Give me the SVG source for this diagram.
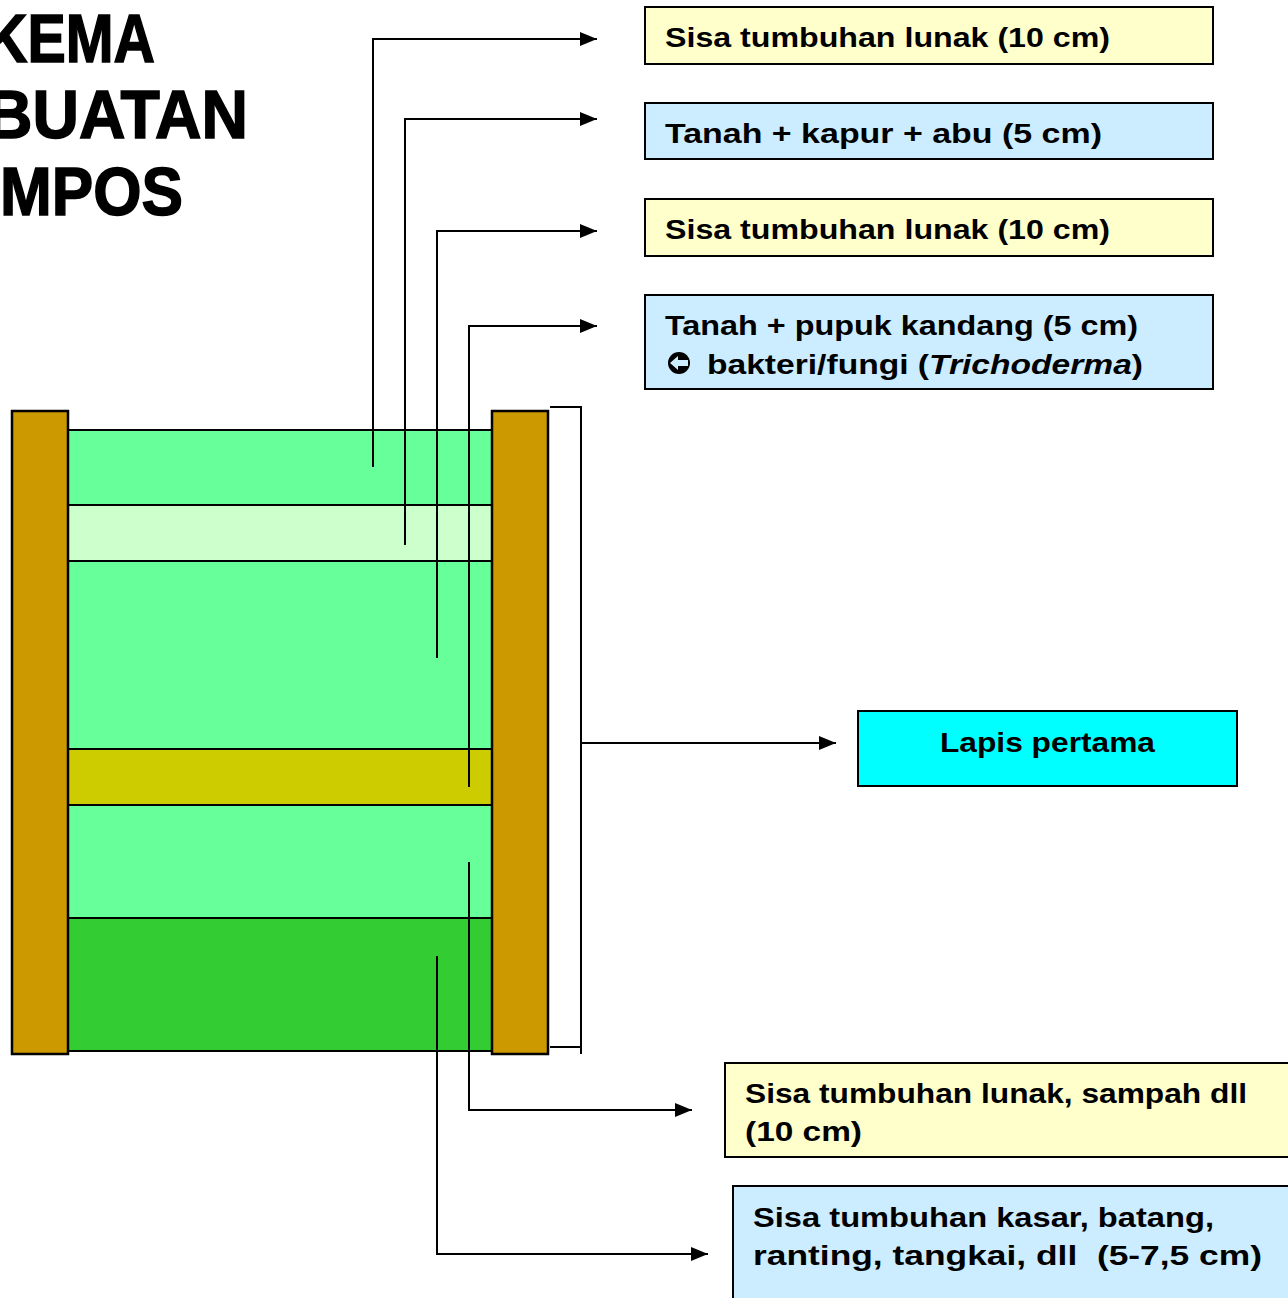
<svg xmlns="http://www.w3.org/2000/svg" width="1288" height="1298" viewBox="0 0 1288 1298">
<style>
.lbl{font-family:"Liberation Sans",Arial,sans-serif;font-weight:bold;font-size:28px;fill:#000;white-space:pre}
.ttl{font-family:"Liberation Sans",Arial,sans-serif;font-weight:bold;font-size:68px;fill:#000;stroke:#000;stroke-width:1.5}
.box{stroke:#000;stroke-width:2}
.post{fill:#CC9900;stroke:#000;stroke-width:2.5}
.layer{stroke:#000;stroke-width:2}
.con{fill:none;stroke:#000;stroke-width:2}
</style>
<defs>
<marker id="ah" viewBox="0 0 17 14" refX="17" refY="7" markerWidth="17" markerHeight="14" markerUnits="userSpaceOnUse" orient="auto">
<path d="M0,0 L17,7 L0,14 Z" fill="#000"/>
</marker>
</defs>
<rect width="1288" height="1298" fill="#fff"/>
<g id="title">
<text class="ttl" x="-14" y="62" textLength="169" lengthAdjust="spacingAndGlyphs">KEMA</text>
<text class="ttl" x="-14" y="138" textLength="262" lengthAdjust="spacingAndGlyphs">BUATAN</text>
<text class="ttl" x="0" y="215" textLength="183" lengthAdjust="spacingAndGlyphs">MPOS</text>
</g>
<g id="compost-bin">
<rect class="layer" x="66" y="430" width="426" height="75" fill="#66FF99"/>
<rect class="layer" x="66" y="505" width="426" height="56" fill="#CCFFCC"/>
<rect class="layer" x="66" y="561" width="426" height="188" fill="#66FF99"/>
<rect class="layer" x="66" y="749" width="426" height="56" fill="#CCCC00"/>
<rect class="layer" x="66" y="805" width="426" height="113" fill="#66FF99"/>
<rect class="layer" x="66" y="918" width="426" height="133" fill="#33CC33"/>
<rect class="post" x="12" y="411" width="56" height="643"/>
<rect class="post" x="492" y="411" width="56" height="643"/>
</g>
<g id="connectors">
<path class="con" d="M550,407 H581 V1054 M550,1047 H581"/>
<path class="con" d="M581,743 H836" marker-end="url(#ah)"/>
<path class="con" d="M373,467 V39 H597" marker-end="url(#ah)"/>
<path class="con" d="M405,545 V119 H597" marker-end="url(#ah)"/>
<path class="con" d="M437,658 V231 H597" marker-end="url(#ah)"/>
<path class="con" d="M469,787 V326 H597" marker-end="url(#ah)"/>
<path class="con" d="M469,862 V1110 H692" marker-end="url(#ah)"/>
<path class="con" d="M437,956 V1254 H708" marker-end="url(#ah)"/>
</g>
<g id="box1">
<rect class="box" x="645" y="7" width="568" height="57" fill="#FFFFCC"/>
<text class="lbl" x="665" y="47" textLength="445" lengthAdjust="spacingAndGlyphs">Sisa tumbuhan lunak (10 cm)</text>
</g>
<g id="box2">
<rect class="box" x="645" y="103" width="568" height="56" fill="#CCECFF"/>
<text class="lbl" x="665" y="143" textLength="437" lengthAdjust="spacingAndGlyphs">Tanah + kapur + abu (5 cm)</text>
</g>
<g id="box3">
<rect class="box" x="645" y="199" width="568" height="57" fill="#FFFFCC"/>
<text class="lbl" x="665" y="239" textLength="445" lengthAdjust="spacingAndGlyphs">Sisa tumbuhan lunak (10 cm)</text>
</g>
<g id="box4">
<rect class="box" x="645" y="295" width="568" height="94" fill="#CCECFF"/>
<text class="lbl" x="665" y="335" textLength="473" lengthAdjust="spacingAndGlyphs">Tanah + pupuk kandang (5 cm)</text>
<circle cx="679" cy="363" r="11" fill="#000"/>
<path d="M670,363 L678,356 L678,360 L688,360 L688,366 L678,366 L678,370 Z" fill="#CCECFF"/>
<text class="lbl" x="707" y="374" textLength="436" lengthAdjust="spacingAndGlyphs">bakteri/fungi (<tspan font-style="italic">Trichoderma</tspan>)</text>
</g>
<g id="box-lapis">
<rect class="box" x="858" y="711" width="379" height="75" fill="#00FFFF"/>
<text class="lbl" x="940" y="752" textLength="215" lengthAdjust="spacingAndGlyphs">Lapis pertama</text>
</g>
<g id="box5">
<rect class="box" x="725" y="1063" width="570" height="94" fill="#FFFFCC"/>
<text class="lbl" x="745" y="1103" textLength="502" lengthAdjust="spacingAndGlyphs">Sisa tumbuhan lunak, sampah dll</text>
<text class="lbl" x="745" y="1141" textLength="117" lengthAdjust="spacingAndGlyphs">(10 cm)</text>
</g>
<g id="box6">
<rect class="box" x="733" y="1186" width="570" height="130" fill="#CCECFF"/>
<text class="lbl" x="753" y="1227" textLength="461" lengthAdjust="spacingAndGlyphs">Sisa tumbuhan kasar, batang,</text>
<text class="lbl" x="753" y="1265" textLength="509" lengthAdjust="spacingAndGlyphs">ranting, tangkai, dll  (5-7,5 cm)</text>
</g>
</svg>
